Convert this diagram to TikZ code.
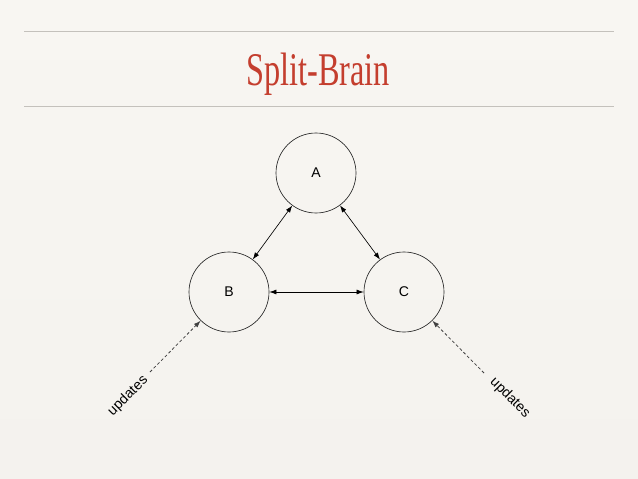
\documentclass[tikz,border=0pt]{standalone}
\usepackage{fontspec}
\setmainfont{Liberation Sans}
\newfontfamily\titlefont{Liberation Serif}
\definecolor{slidered}{RGB}{196,62,46}
\definecolor{rulegray}{RGB}{196,193,188}
\definecolor{papertop}{RGB}{248,246,242}
\definecolor{papermid}{RGB}{232,230,226}
\definecolor{paperbot}{RGB}{244,242,238}
\usetikzlibrary{positioning, arrows.meta}

\begin{document}
\begin{tikzpicture}[
    x=0.03cm, y=-0.03cm,
    peer/.style={circle, draw=black!85, line width=0.55pt, minimum size=2.4cm,
      inner sep=0pt, font=\fontsize{12}{14}\selectfont},
    link/.style={{Latex[length=6pt,width=4.2pt]}-{Latex[length=6pt,width=4.2pt]},
      line width=0.55pt},
    feed/.style={-{Latex[length=6pt,width=4.2pt]}, dash pattern=on 2.5pt off 2pt,
      black!75, line width=0.65pt},
    rule/.style={draw=rulegray, line width=0.6pt},
    tag/.style={font=\fontsize{12}{14}\selectfont, inner sep=1pt},
  ]
    % slide background
    \shade[top color=papertop, middle color=papermid, bottom color=paperbot]
      (0,0) rectangle (638,479);
    \useasboundingbox (0,0) rectangle (638,479);

    % title between two rules
    \draw[rule] (24,31) -- (614,31);
    \draw[rule] (24,106) -- (614,106);
    \node[anchor=base, inner sep=0pt, text=slidered,
      font=\titlefont\fontsize{40}{44}\selectfont] (title) at (318,86)
      {\scalebox{0.69}[1]{Split-Brain}};

    % the three peers
    \node[peer] (A) at (316,173) {A};
    \node[peer] (B) at (229,292) {B};
    \node[peer] (C) at (404,292) {C};

    \draw[link] (A) -- (B);
    \draw[link] (A) -- (C);
    \draw[link] (B) -- (C);

    % writes coming in from outside
    \coordinate (srcB) at (150,372);
    \coordinate (srcC) at (484,373);
    \draw[feed] (srcB) -- (B);
    \draw[feed] (srcC) -- (C);
    \node[tag, rotate=45] (updB) at (128,396) {updates};
    \node[tag, rotate=-45] (updC) at (510,398) {updates};
  \end{tikzpicture}
\end{document}
